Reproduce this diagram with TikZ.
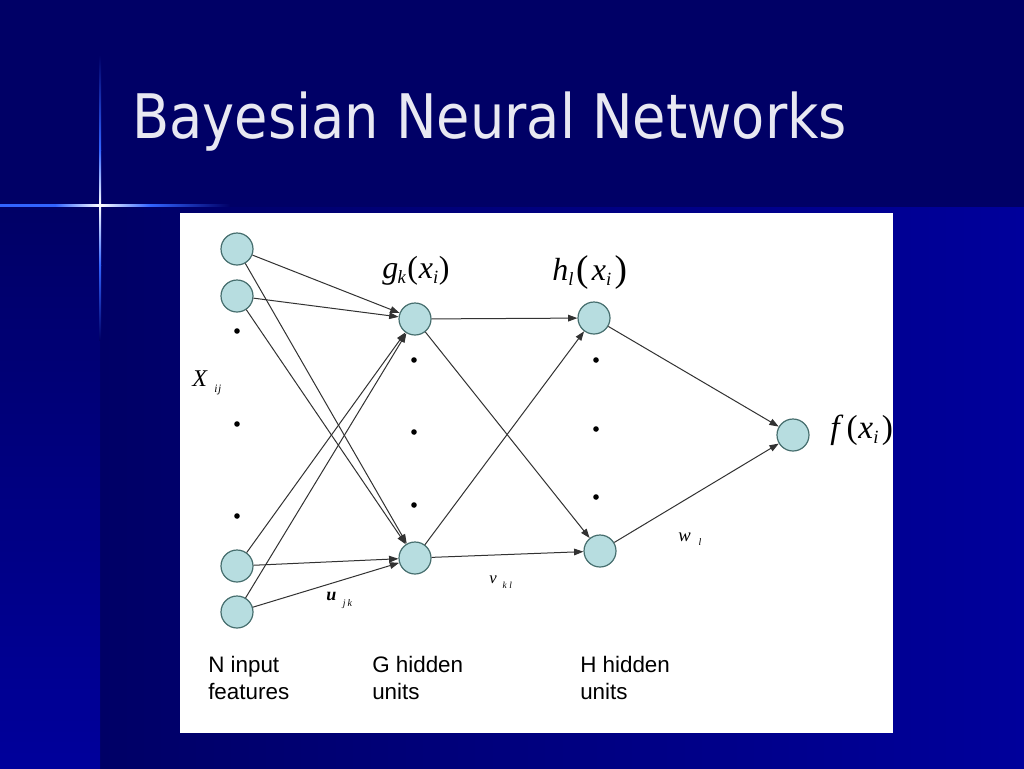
\documentclass[tikz,border=0pt]{standalone}
\usepackage{fontspec}
\setmainfont{Liberation Serif}
\newfontfamily\ttlfont{DejaVu Sans}
\newfontfamily\arlfont{Liberation Sans}
\usetikzlibrary{arrows.meta}
\definecolor{navy}{RGB}{0,0,102}
\definecolor{bright}{RGB}{0,0,155}
\definecolor{nodefill}{RGB}{183,221,224}
\definecolor{nodeline}{RGB}{70,110,110}
\definecolor{edgec}{RGB}{50,50,50}
\definecolor{spark}{RGB}{50,100,255}
\definecolor{titlec}{RGB}{232,232,242}
\begin{document}
\begin{tikzpicture}[x=0.75pt,y=-0.75pt,
  neuron/.style={circle,draw=nodeline,fill=nodefill,line width=0.9pt,minimum size=24pt,inner sep=0pt},
  dotc/.style={circle,fill=black,minimum size=4.2pt,inner sep=0pt},
  conn/.style={draw=edgec,line width=0.75pt,-{Triangle[length=7pt,width=5pt]}},
  layerlabel/.style={anchor=north west,inner sep=0pt,align=left,text=black,font=\arlfont\fontsize{16.8pt}{20pt}\selectfont},
  mathlabel/.style={anchor=base west,inner sep=0pt,text=black}
]
\useasboundingbox (0,0) rectangle (1024,768);
% background
\fill[navy] (0,0) rectangle (1024,768);
\shade[left color=navy,right color=bright] (100,207) rectangle (1024,768);
\shade[top color=navy,bottom color=bright] (0,207) rectangle (100,768);
% sparkle
\shade[top color=navy,bottom color=spark] (99,55) rectangle (101,150);
\shade[top color=spark,bottom color=white] (99,150) rectangle (101,205);
\shade[top color=white,bottom color=spark] (99,205) rectangle (101,265);
\shade[top color=spark,bottom color=navy] (99,265) rectangle (101,340);
\shade[left color=spark,right color=spark] (0,204) rectangle (55,206.5);
\shade[left color=spark,right color=white] (55,204) rectangle (100,206.5);
\shade[left color=white,right color=spark] (100,204) rectangle (150,206.5);
\shade[left color=spark,right color=navy] (150,204) rectangle (230,206.5);
% title
\node[anchor=base west,inner sep=0pt,text=titlec] (title) at (132,138)
  {\resizebox{536pt}{35pt}{\ttlfont Bayesian Neural Networks}};
% white panel
\fill[white] (180,213) rectangle (893,733);
% neurons
\node[neuron] (i1) at (237,249) {};
\node[neuron] (i2) at (237,296) {};
\node[neuron] (i3) at (237,566) {};
\node[neuron] (i4) at (237,612) {};
\node[neuron] (g1) at (415,319) {};
\node[neuron] (g2) at (415,558) {};
\node[neuron] (h1) at (594,318) {};
\node[neuron] (h2) at (600,551) {};
\node[neuron] (o) at (793,435) {};
% ellipsis dots
\node[dotc] (di1) at (237,331) {};
\node[dotc] (di2) at (237,424) {};
\node[dotc] (di3) at (237,516) {};
\node[dotc] (dg1) at (414,360) {};
\node[dotc] (dg2) at (414,432) {};
\node[dotc] (dg3) at (414,505) {};
\node[dotc] (dh1) at (596,360) {};
\node[dotc] (dh2) at (596,429) {};
\node[dotc] (dh3) at (596,497) {};
% connections
\foreach \s in {i1,i2,i3,i4}{
  \draw[conn] (\s) -- (g1);
  \draw[conn] (\s) -- (g2);
}
\foreach \s in {g1,g2}{
  \draw[conn] (\s) -- (h1);
  \draw[conn] (\s) -- (h2);
}
\draw[conn] (h1) -- (o);
\draw[conn] (h2) -- (o);
% math labels
\node[mathlabel] (xl) at (192,386)
  {\fontsize{18pt}{18pt}\selectfont\textit{X}\kern5pt\raisebox{-5pt}{\fontsize{8.5pt}{8.5pt}\selectfont\textit{i\kern0.5pt j}}};
\node[mathlabel] (gl) at (382,278)
  {\fontsize{24pt}{24pt}\selectfont\textit{g}\kern-0.5pt\raisebox{-4pt}{\fontsize{14pt}{14pt}\selectfont\textit{k}}\kern1pt(\kern0.5pt\textit{x}\raisebox{-4pt}{\fontsize{14pt}{14pt}\selectfont\textit{i}}\kern0.5pt)};
\node[mathlabel] (hl) at (552,280)
  {\fontsize{24pt}{24pt}\selectfont\textit{h}\raisebox{-4pt}{\fontsize{14pt}{14pt}\selectfont\textit{l}}\kern2pt\raisebox{-1pt}{\fontsize{28pt}{28pt}\selectfont(}\kern2.5pt\textit{x}\raisebox{-4pt}{\fontsize{14pt}{14pt}\selectfont\textit{i}}\kern2.5pt\raisebox{-1pt}{\fontsize{28pt}{28pt}\selectfont)}};
\begin{scope}
\clip (180,213) rectangle (893,733);
\node[mathlabel] (fl) at (830,438)
  {\fontsize{25pt}{25pt}\selectfont\textit{f}\kern2.5pt(\kern0.5pt\textit{x}\raisebox{-4pt}{\fontsize{14pt}{14pt}\selectfont\textit{i}}\kern2.5pt)};
\end{scope}
\node[mathlabel] (ul) at (326,600)
  {\fontsize{13.5pt}{13.5pt}\selectfont\textbf{\textit{u}}\kern5pt\raisebox{-5pt}{\fontsize{7.5pt}{7.5pt}\selectfont\textit{j\kern1.5pt k}}};
\node[mathlabel] (vl) at (489,583)
  {\fontsize{12.5pt}{12.5pt}\selectfont\textit{v}\kern4.5pt\raisebox{-4pt}{\fontsize{7pt}{7pt}\selectfont\textit{k\kern2pt l}}};
\node[mathlabel] (wl) at (678,541)
  {\fontsize{14pt}{14pt}\selectfont\textit{w}\kern6pt\raisebox{-3.5pt}{\fontsize{7.5pt}{7.5pt}\selectfont\textit{l}}};
% layer labels
\node[layerlabel] (nl) at (208,656) {N input\\features};
\node[layerlabel] (gcap) at (372,656) {G hidden\\units};
\node[layerlabel] (hcap) at (580,656) {H hidden\\units};
\end{tikzpicture}
\end{document}
